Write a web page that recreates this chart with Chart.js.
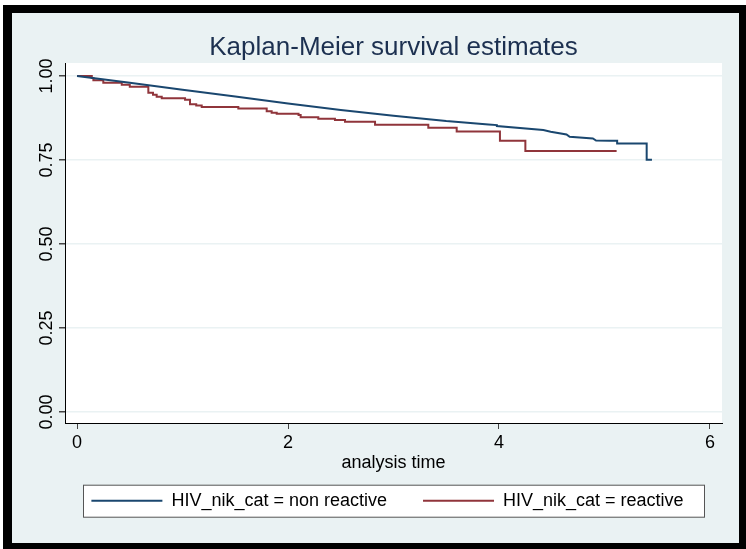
<!DOCTYPE html>
<html>
<head>
<meta charset="utf-8">
<script src="https://cdn.jsdelivr.net/npm/chart.js@4"></script>
<style>
  html, body { margin: 0; padding: 0; background: #ffffff; }
  #wrap { width: 746px; height: 549px; }
</style>
</head>
<body>
<div id="wrap"><canvas id="kmChart" width="746" height="549"></canvas></div>
<script>
// survival estimates
// non reactive: many tiny steps, drawn as a polyline with explicit corners where the steps are visible
const nonReactiveTime = [0, 0.5, 1.0, 1.5, 2.0, 2.5, 3.0, 3.5, 3.9, 3.98, 3.98, 4.42, 4.49, 4.64, 4.67, 4.89, 4.92, 5.05, 5.12, 5.12, 5.40, 5.40, 5.45];
const nonReactiveSurv = [1.000, 0.980, 0.959, 0.939, 0.918, 0.899, 0.882, 0.866, 0.856, 0.854, 0.851, 0.839, 0.834, 0.826, 0.819, 0.814, 0.808, 0.807, 0.807, 0.799, 0.799, 0.751, 0.751];

const reactiveTime = [0, 0.14, 0.155, 0.249, 0.424, 0.50, 0.676, 0.72, 0.755, 0.803, 1.024, 1.071, 1.13, 1.182, 1.529, 1.798, 1.845, 1.893,
    2.10, 2.12, 2.287, 2.445, 2.54, 2.825, 3.33, 3.599, 4.009, 4.25, 5.115];
const reactiveSurv = [1.000, 0.994, 0.987, 0.980, 0.974, 0.968, 0.950, 0.944, 0.938, 0.934, 0.929, 0.916, 0.912, 0.908, 0.903, 0.895, 0.891, 0.888,
    0.884, 0.877, 0.873, 0.869, 0.864, 0.855, 0.846, 0.835, 0.807, 0.777, 0.777];

const seriesLabels = ['HIV_nik_cat = non reactive', 'HIV_nik_cat = reactive'];
const xTicks = [0, 2, 4, 6];
const yTicks = [0, 0.25, 0.5, 0.75, 1];

function toPoints(times, surv){
    let pts = [];
    for(let i = 0; i < times.length; i++){
        pts.push({x: times[i], y: surv[i]});
    }
    return pts;
}

const stataFrame = {
    id: 'stataFrame',
    afterLayout(chart){
        let area = chart.chartArea;
        // title and legend are centred on the plot region, as Stata does
        let t = chart.titleBlock;
        t.left = area.left; t.right = area.right; t.width = area.right - area.left;
        let lg = chart.legend;
        lg.left = area.left - 12; lg.right = area.right; lg.width = lg.right - lg.left;
        lg.top = area.bottom + 32.7; lg.bottom = lg.top + lg.height;
    },
    beforeDraw(chart){
        let ctx = chart.ctx;
        let area = chart.chartArea;
        let mid = chart.legend.top + 45;
        ctx.save();
        ctx.fillStyle = '#ffffff';
        ctx.fillRect(0, 0, chart.width, chart.height);
        ctx.fillStyle = '#000000';
        ctx.fillRect(3, 5, chart.width - 3, chart.height - 5);
        ctx.fillStyle = '#eaf2f3';
        ctx.fillRect(12, 13, chart.width - 19, chart.height - 19);
        ctx.fillStyle = '#ffffff';
        ctx.fillRect(area.left, area.top, area.right - area.left, area.bottom - area.top);
        // legend box
        ctx.fillRect(area.left + 18.5, mid - 15.5, area.right - area.left - 36, 32);
        ctx.strokeStyle = '#555555';
        ctx.lineWidth = 1;
        ctx.strokeRect(area.left + 18.5, mid - 15.5, area.right - area.left - 36, 32);
        ctx.restore();
    }
};

let ctx = document.getElementById('kmChart').getContext('2d');
let kmChart = new Chart(ctx, {
    type: 'scatter',
    data: {
        datasets: [{
            label: seriesLabels[0],
            data: toPoints(nonReactiveTime, nonReactiveSurv),
            showLine: true,
            stepped: false,
            borderColor: '#1a476f',
            backgroundColor: '#1a476f',
            borderWidth: 2,
            pointRadius: 0,
            pointStyle: 'line'
        }, {
            label: seriesLabels[1],
            data: toPoints(reactiveTime, reactiveSurv),
            showLine: true,
            stepped: true,
            borderColor: '#90353b',
            backgroundColor: '#90353b',
            borderWidth: 2,
            pointRadius: 0,
            pointStyle: 'line'
        }]
    },
    options: {
        responsive: false,
        animation: false,
        devicePixelRatio: 1,
        layout: {
            padding: { top: 13, bottom: 10, left: 24, right: 24 }
        },
        plugins: {
            title: {
                display: true,
                text: 'Kaplan-Meier survival estimates',
                color: '#1c3050',
                padding: { top: 19.4, bottom: -0.6 },
                font: { family: 'Liberation Sans', size: 26, weight: 'normal', lineHeight: 1.2 }
            },
            legend: {
                display: true,
                position: 'bottom',
                labels: {
                    color: '#000000',
                    usePointStyle: true,
                    pointStyleWidth: 71,
                    padding: 36,
                    font: { family: 'Liberation Sans', size: 18 }
                }
            },
            tooltip: { enabled: false }
        },
        scales: {
            x: {
                type: 'linear',
                min: -0.114,
                max: 6.114,
                afterBuildTicks(scale){
                    scale.ticks = xTicks.map(v => ({value: v}));
                },
                afterFit(scale){
                    scale.height = 52;
                },
                ticks: {
                    color: '#000000',
                    padding: 3,
                    maxRotation: 0,
                    font: { family: 'Liberation Sans', size: 18 },
                    callback: v => String(v)
                },
                grid: {
                    drawOnChartArea: false,
                    drawTicks: true,
                    tickLength: 6,
                    tickColor: '#444444'
                },
                border: { display: true, color: '#000000', width: 1 },
                title: {
                    display: true,
                    text: 'analysis time',
                    color: '#000000',
                    padding: { top: 0, bottom: 1.2 },
                    font: { family: 'Liberation Sans', size: 18 }
                }
            },
            y: {
                type: 'linear',
                min: -0.0327,
                max: 1.0387,
                afterBuildTicks(scale){
                    scale.ticks = yTicks.map(v => ({value: v}));
                },
                afterFit(scale){
                    scale.width = 41;
                },
                ticks: {
                    color: '#000000',
                    padding: -6,
                    minRotation: 90,
                    maxRotation: 90,
                    crossAlign: 'center',
                    font: { family: 'Liberation Sans', size: 18 },
                    callback: v => v.toFixed(2)
                },
                grid: {
                    color: '#eaf2f3',
                    lineWidth: 1.5,
                    drawTicks: true,
                    tickLength: 6,
                    tickColor: '#444444'
                },
                border: { display: true, color: '#000000', width: 1 }
            }
        }
    },
    plugins: [stataFrame]
});
</script>
</body>
</html>
